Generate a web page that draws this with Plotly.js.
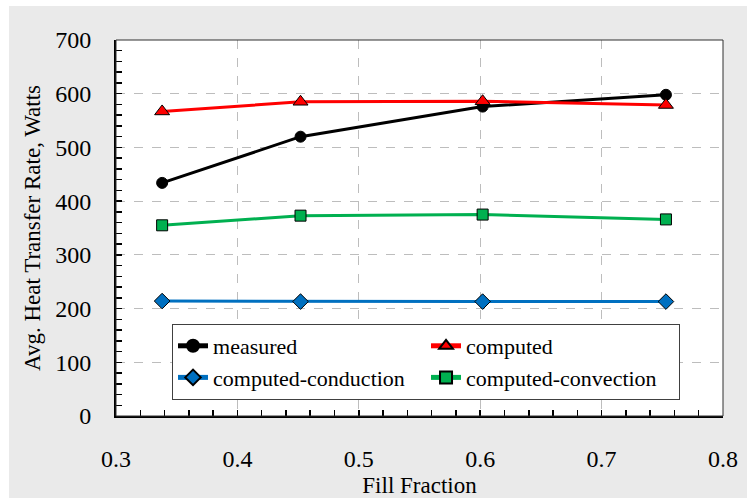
<!DOCTYPE html>
<html>
<head>
<meta charset="utf-8">
<script src="https://cdn.plot.ly/plotly-3.0.1.min.js"></script>
<style>
  html, body { margin: 0; padding: 0; background: #ffffff; width: 747px; height: 498px; overflow: hidden; }
  #chart { position: absolute; left: 9px; top: 6px; width: 738px; height: 492px; }
  #chart text { font-family: "Liberation Serif", "Times New Roman", serif !important; }
</style>
</head>
<body>
<div id="chart"></div>
<script>
// Data
const fillFraction = [0.338, 0.452, 0.602, 0.753];
const measured = [434, 520, 576, 598];
const computed = [567, 585, 586, 579];
const computedConduction = [214, 213, 213, 213];
const computedConvection = [355, 373, 375, 366];

const seriesNames = ["measured", "computed", "computed-conduction", "computed-convection"];
const xTitle = "Fill Fraction";
const yTitle = "Avg. Heat Transfer Rate, Watts";

const FONT = "Liberation Serif";

const traces = [
  {
    x: fillFraction, y: measured, name: seriesNames[0], type: "scatter", mode: "lines+markers",
    line: { color: "#000000", width: 3 },
    marker: { symbol: "circle", size: 11, color: "#000000", line: { color: "#000000", width: 1 } }
  },
  {
    x: fillFraction, y: computed, name: seriesNames[1], type: "scatter", mode: "lines+markers",
    line: { color: "#ff0000", width: 3 },
    marker: { symbol: "triangle-up", size: 13, color: "#ff0000", line: { color: "#000000", width: 1 } }
  },
  {
    x: fillFraction, y: computedConduction, name: seriesNames[2], type: "scatter", mode: "lines+markers",
    line: { color: "#0070c0", width: 3 },
    marker: { symbol: "diamond", size: 12, color: "#0070c0", line: { color: "#000000", width: 1 } }
  },
  {
    x: fillFraction, y: computedConvection, name: seriesNames[3], type: "scatter", mode: "lines+markers",
    line: { color: "#00b050", width: 3 },
    marker: { symbol: "square", size: 11, color: "#00b050", line: { color: "#000000", width: 1 } }
  }
];

const layout = {
  width: 738, height: 492,
  paper_bgcolor: "#eaeaea",
  plot_bgcolor: "#ffffff",
  margin: { l: 107, r: 24, t: 34, b: 82, pad: 0 },
  font: { family: FONT, color: "#000000", size: 22 },
  showlegend: true,
  xaxis: {
    range: [0.3, 0.8], dtick: 0.1, tick0: 0.3,
    tickformat: ".1f",
    showgrid: true, gridcolor: "#bdbdbd", griddash: "dash", gridwidth: 1,
    zeroline: false,
    showline: true, linecolor: "#000000", linewidth: 2, mirror: false,
    ticks: "inside", ticklen: 6, tickwidth: 1.5, tickcolor: "#000000",
    minor: { dtick: 0.02, ticks: "inside", ticklen: 6, tickwidth: 1.5, tickcolor: "#000000", showgrid: false },
    tickfont: { family: FONT, size: 24, color: "#000000" },
    ticklabelstandoff: 20,
    title: { text: xTitle, font: { family: FONT, size: 23, color: "#000000" }, standoff: 6 },
    automargin: false
  },
  yaxis: {
    range: [0, 700], dtick: 100,
    showgrid: true, gridcolor: "#bdbdbd", griddash: "dash", gridwidth: 1,
    zeroline: false,
    showline: true, linecolor: "#000000", linewidth: 2, mirror: false,
    ticks: "inside", ticklen: 6, tickwidth: 1.5, tickcolor: "#000000",
    minor: { dtick: 20, ticks: "inside", ticklen: 6, tickwidth: 1.5, tickcolor: "#000000", showgrid: false },
    tickfont: { family: FONT, size: 24, color: "#000000" },
    ticklabelstandoff: 18,
    title: { text: yTitle, font: { family: FONT, size: 23, color: "#000000" }, standoff: 8 },
    automargin: false
  },
  legend: {
    orientation: "h",
    x: 0.0923, y: 0.2447, xanchor: "left", yanchor: "top",
    bgcolor: "#ffffff", bordercolor: "#404040", borderwidth: 1,
    font: { family: FONT, size: 22, color: "#000000" },
    entrywidth: 208, entrywidthmode: "pixels",
    itemsizing: "constant"
  },
  shapes: [
    { type: "rect", xref: "paper", yref: "paper", x0: 0, x1: 1, y0: 0, y1: 1,
      line: { color: "#303030", width: 1 }, fillcolor: "rgba(0,0,0,0)", layer: "above" }
  ]
};

Plotly.newPlot("chart", traces, layout, { displayModeBar: false, staticPlot: true });
</script>
</body>
</html>
